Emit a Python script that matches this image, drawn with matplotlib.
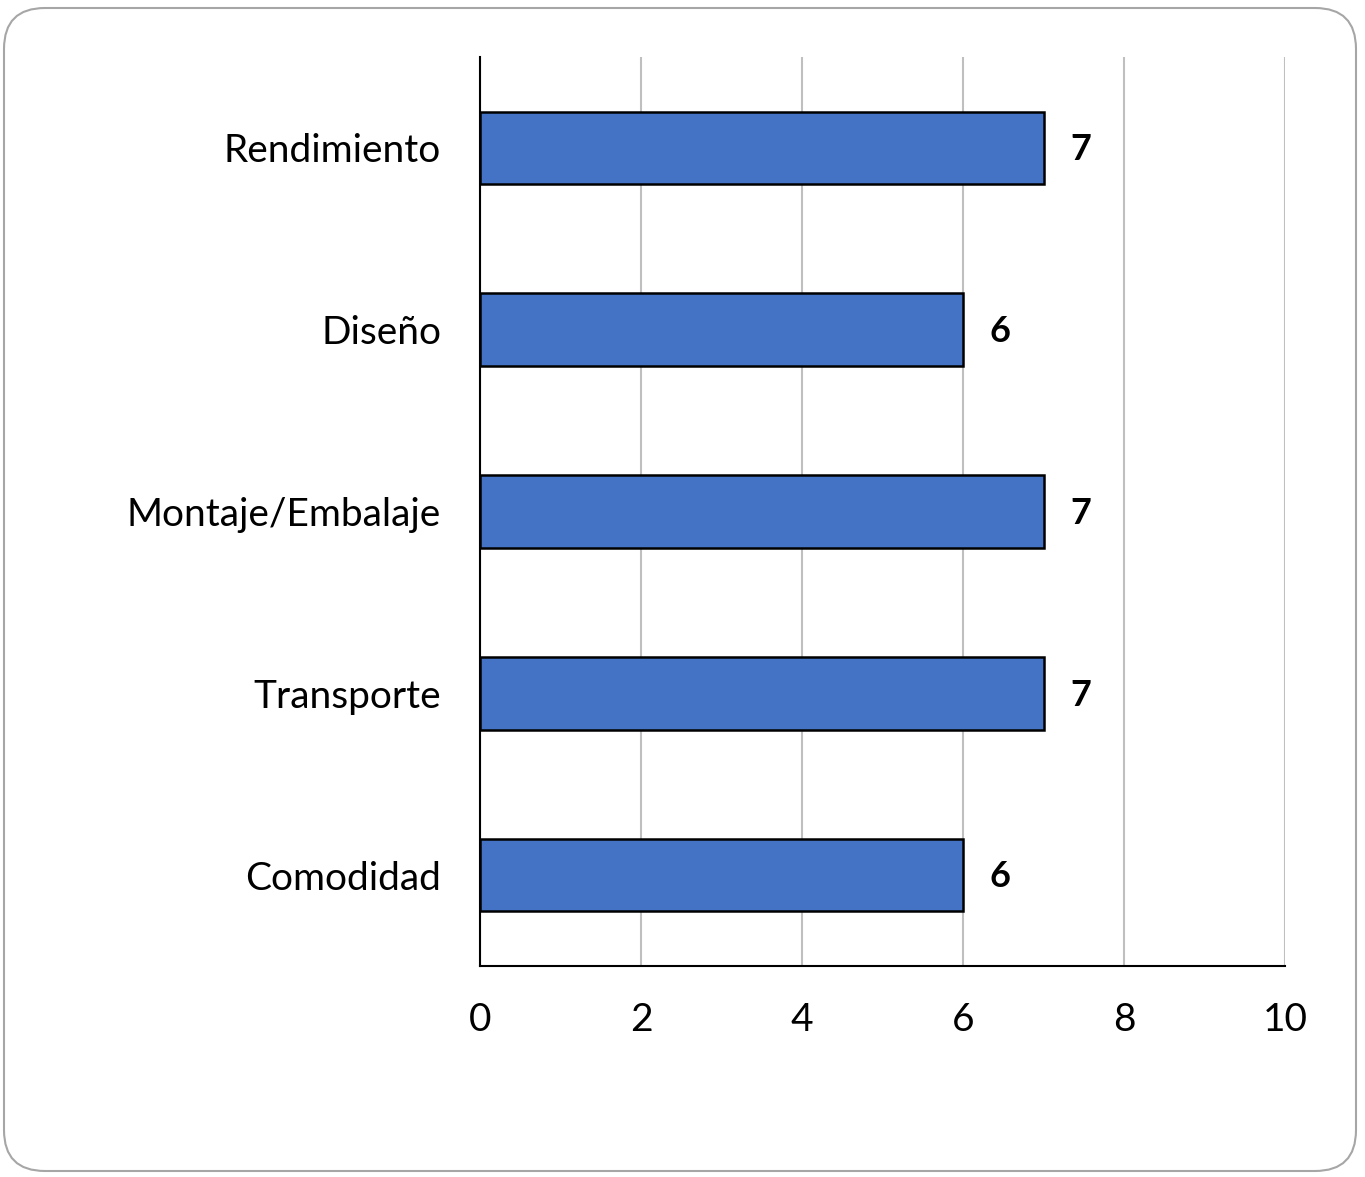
import matplotlib.pyplot as plt
from matplotlib.patches import FancyBboxPatch

plt.rcParams['font.family'] = ['Lato', 'DejaVu Sans']

categories = ['Rendimiento', 'Diseño', 'Montaje/Embalaje', 'Transporte', 'Comodidad']
values = [7, 6, 7, 7, 6]
xticks = [0, 2, 4, 6, 8, 10]

W, H = 1365, 1177
fig = plt.figure(figsize=(W / 100, H / 100), dpi=100)

# rounded outer frame, kept behind the axes
frame = FancyBboxPatch((4 / W, 6 / H), 1352 / W, 1163 / H,
                       boxstyle='round,pad=0,rounding_size=0.03',
                       transform=fig.transFigure, facecolor='white',
                       edgecolor='#a6a6a6', linewidth=1.5, mutation_aspect=W / H,
                       zorder=-10)
fig.patches.append(frame)

ax = fig.add_axes([480 / W, 1 - 966 / H, 805 / W, 909 / H])
ax.set_facecolor('none')
ax.set_zorder(5)

ypos = list(range(len(categories)))
ax.barh(ypos, values, height=0.4, color='#4472c4', edgecolor='black', linewidth=1.8, zorder=3)
for y, v in zip(ypos, values):
    ax.text(v + 0.46, y + 0.01, str(v), va='center', ha='center', fontsize=26, fontweight='bold')

ax.set_ylim(len(categories) - 0.5, -0.5)
ax.set_xlim(0, 10)
ax.set_xticks(xticks)
ax.set_yticks(ypos)
ax.set_yticklabels(categories)
ax.tick_params(axis='both', length=0, labelsize=28)
ax.tick_params(axis='y', pad=28)
ax.tick_params(axis='x', pad=26)
ax.grid(axis='x', color='#bfbfbf', linewidth=1.5, zorder=0)
for s in ['top', 'right']:
    ax.spines[s].set_visible(False)
ax.spines['left'].set_linewidth(1.5)
ax.spines['bottom'].set_linewidth(1.5)

fig.savefig('out.png', dpi=100)
